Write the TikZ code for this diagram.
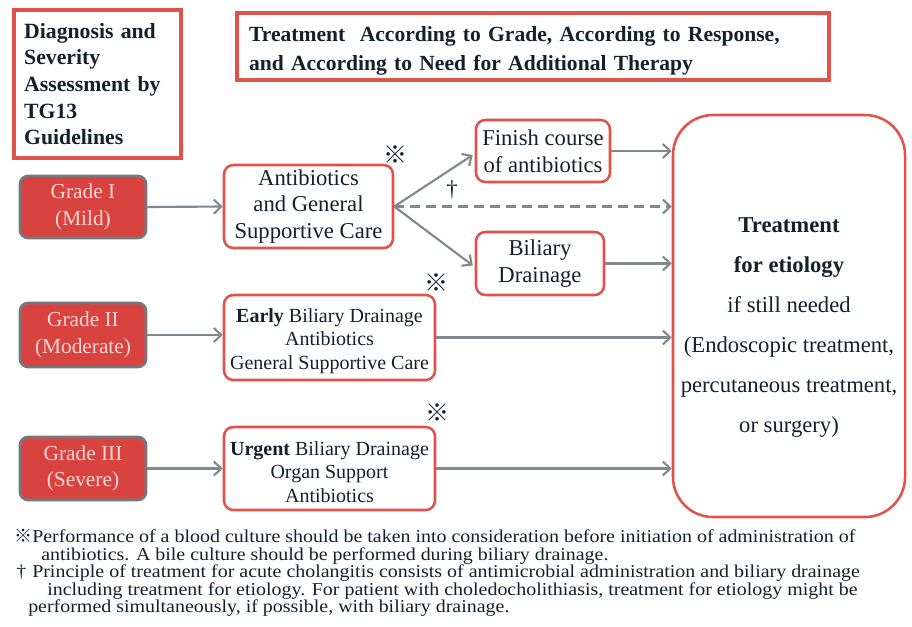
\documentclass[tikz,border=0pt]{standalone}
\usepackage{fontspec}
\setmainfont{Liberation Serif}
\newfontfamily\cjkfont{Noto Sans CJK JP}
\newfontfamily\notefont{Liberation Serif}[FakeStretch=1.1]
\usetikzlibrary{arrows.meta,calc}
\definecolor{bred}{HTML}{E0524A}
\definecolor{gfill}{HTML}{D9433F}
\definecolor{gborder}{HTML}{6F7A80}
\definecolor{gtext}{HTML}{F7D6D3}
\definecolor{arr}{HTML}{7F898E}
\definecolor{ink}{HTML}{13212B}
\begin{document}
\begin{tikzpicture}[x=0.75pt,y=-0.75pt,
  every node/.style={text=ink},
  hdr/.style={draw=bred, line width=2.6pt, rectangle, inner sep=0pt, font=\bfseries\fontsize{16.3}{20}\selectfont, align=left},
  grade/.style={draw=gborder, fill=gfill, line width=2pt, rounded corners=6pt, text=gtext, align=center, font=\fontsize{16}{20}\selectfont, minimum width=94.5pt, minimum height=46.5pt, inner sep=0pt},
  stepbox/.style={draw=bred, line width=1.9pt, rounded corners=7pt, fill=white, align=center, inner sep=0pt},
  big/.style={font=\fontsize{17}{20}\selectfont},
  mid/.style={font=\fontsize{15}{17.6}\selectfont},
  conn/.style={draw=arr, line width=1.6pt, -{Straight Barb[length=5.5pt,width=10.5pt,line width=1.6pt]}},
  refmark/.style={font=\cjkfont\fontsize{18}{18}\selectfont, inner sep=0pt}
]
\useasboundingbox[fill=white] (0,0) rectangle (912,626);

% headers
\node[hdr, minimum width=125.25pt, minimum height=111pt, text width=110pt] (diag) at (97.5,84)
  {Diagnosis and\\Severity\\Assessment by\\TG13\\Guidelines};
\node[hdr, minimum width=444pt, minimum height=50.25pt, text width=426pt, font=\bfseries\fontsize{16.2}{21.75}\selectfont] (title) at (533,46.5)
  {\raisebox{0pt}[1.1em][0pt]{}Treatment\ \ According to Grade, According to Response,\\and According to Need for Additional Therapy};

% grades
\node[grade] (g1) at (83,207) {Grade I\\(Mild)};
\node[grade, minimum height=48pt] (g2) at (83,335) {Grade II\\(Moderate)};
\node[grade, minimum height=47.25pt] (g3) at (83,468.5) {Grade III\\(Severe)};

% steps
\node[stepbox, big, minimum width=126.75pt, minimum height=62.25pt] (ab) at (308.5,206.5)
  {Antibiotics\\and General\\Supportive Care};
\node[stepbox, big, minimum width=100.5pt, minimum height=46.5pt] (fin) at (543,151)
  {Finish course\\of antibiotics};
\node[stepbox, big, minimum width=96pt, minimum height=47.25pt] (bd) at (540,263.5)
  {Biliary\\Drainage};
\node[stepbox, mid, minimum width=158.25pt, minimum height=63.75pt] (early) at (329.5,337.5)
  {\raisebox{0pt}[1.05em][0pt]{}\textbf{Early} Biliary Drainage\\Antibiotics\\General Supportive Care};
\node[stepbox, mid, minimum width=158.25pt, minimum height=62.25pt] (urg) at (329.5,468.5)
  {\raisebox{0pt}[1.05em][0pt]{}\textbf{Urgent} Biliary Drainage\\Organ Support\\Antibiotics};

% treatment for etiology
\node[stepbox, minimum width=174pt, minimum height=301.5pt, rounded corners=30pt] (tr) at (789,316) {};
\node[align=center, font=\fontsize{17}{30}\selectfont, inner sep=0pt] (trtext) at (789,327.5)
  {\textbf{Treatment}\\\textbf{for etiology}\\if still needed\\(Endoscopic treatment,\\percutaneous treatment,\\or surgery)};

% connectors
\draw[conn] (g1.east) -- (ab.west);
\draw[conn] (g2.east) -- (g2.east -| early.west);
\draw[conn] (g3.east) -- (g3.east -| urg.west);
\draw[conn] (ab.east) -- ($(fin.west)+(-2,4)$);
\draw[conn] (ab.east) -- ($(bd.west)+(-2,2)$);
\draw[conn, dash pattern=on 7pt off 5pt] (ab.east) -- (ab.east -| tr.west);
\draw[conn] (fin.east) -- (fin.east -| tr.west);
\draw[conn] (bd.east) -- (bd.east -| tr.west);
\draw[conn] (early.east) -- (early.east -| tr.west);
\draw[conn] (urg.east) -- (urg.east -| tr.west);

% marks
\node[refmark] (m1) at (395,155) {※};
\node[refmark] (m2) at (436,283) {※};
\node[refmark] (m3) at (437,413) {※};
\node[font=\fontsize{17}{17}\selectfont, inner sep=0pt] (dg) at (452,190) {†};

% notes
\node[anchor=north west, align=left, inner sep=0pt, font=\notefont\fontsize{13.6}{13.125}\selectfont] (notes) at (14,529)
  {\makebox[13.5pt][l]{\cjkfont\fontsize{13.5}{13.5}\selectfont ※}Performance of a blood culture should be taken into consideration before initiation of administration of\\
   \hspace*{20.25pt}antibiotics. A bile culture should be performed during biliary drainage.\\
   \hspace*{1.5pt}\makebox[12pt][l]{†}Principle of treatment for acute cholangitis consists of antimicrobial administration and biliary drainage\\
   \hspace*{24.75pt}including treatment for etiology. For patient with choledocholithiasis, treatment for etiology might be\\
   \hspace*{10.5pt}performed simultaneously, if possible, with biliary drainage.};
\end{tikzpicture}
\end{document}
